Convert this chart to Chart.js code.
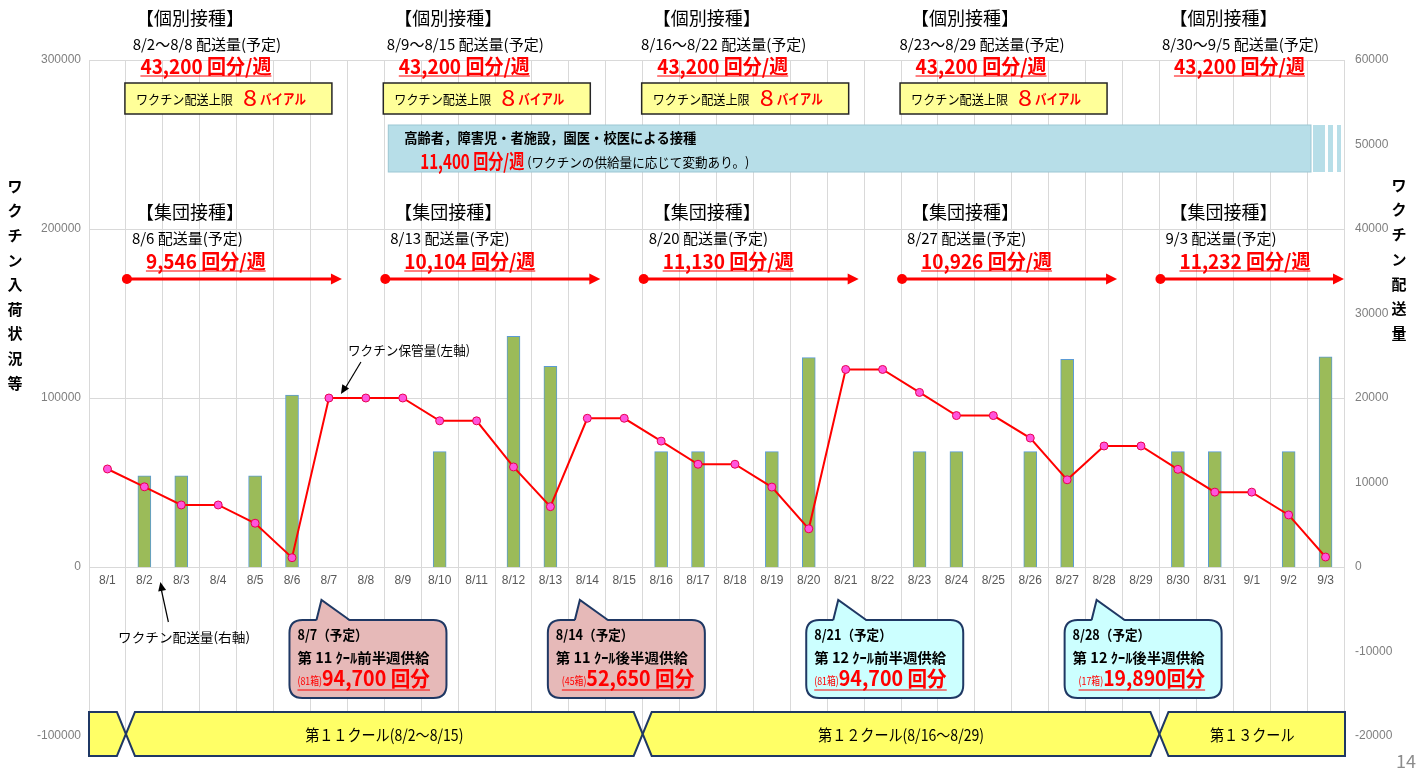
<!DOCTYPE html>
<html>
<head>
<meta charset="utf-8">
<script src="https://cdn.jsdelivr.net/npm/chart.js@4.4.1/dist/chart.umd.min.js"></script>
<style>
  html, body { margin: 0; padding: 0; background: #fff; }
  #wrap { width: 1422px; height: 769px; position: relative; }
</style>
</head>
<body>
<div id="wrap"><canvas id="myChart"></canvas></div>
<script>
// categories
var days = ["8/1","8/2","8/3","8/4","8/5","8/6","8/7","8/8","8/9","8/10","8/11","8/12","8/13","8/14","8/15",
  "8/16","8/17","8/18","8/19","8/20","8/21","8/22","8/23","8/24","8/25","8/26","8/27","8/28","8/29",
  "8/30","8/31","9/1","9/2","9/3"];

// ワクチン保管量 (left axis)
var stock = [58000, 47450, 36700, 36700, 25900, 5500, 100000, 100000, 100000, 86500, 86500, 59200, 35700, 88000, 88000,
  74500, 60800, 60800, 47300, 22600, 116900, 116900, 103300, 89600, 89600, 76300, 51600, 71600, 71600,
  57800, 44300, 44300, 30800, 5900];

// ワクチン配送量 (right axis)
var delivery = [null, 10800, 10800, null, 10800, 20346, null, null, null, 13650, null, 27300, 23754, null, null,
  13650, 13650, null, 13650, 24780, null, null, 13650, 13650, null, 13650, 24576, null, null,
  13650, 13650, null, 13650, 24882];

// tick values
var leftTicks = [-100000, 0, 100000, 200000, 300000];
var rightTicks = [-20000, -10000, 0, 10000, 20000, 30000, 40000, 50000, 60000];

// week groups (start index in days)
var weekStart = [1, 8, 15, 22, 29];
var indivRange = ["8/2～8/8", "8/9～8/15", "8/16～8/22", "8/23～8/29", "8/30～9/5"];
var indivDose = ["43,200", "43,200", "43,200", "43,200", "43,200"];
var capVials = ["8", "8", "8", "8"];
var groupDate = ["8/6", "8/13", "8/20", "8/27", "9/3"];
var groupDose = ["9,546", "10,104", "11,130", "10,926", "11,232"];

// supply callouts
var supplyIdx = [6, 13, 20, 27];
var supplyDate = ["8/7", "8/14", "8/21", "8/28"];
var supplyHalf = ["第 11 ｸｰﾙ前半週供給", "第 11 ｸｰﾙ後半週供給", "第 12 ｸｰﾙ前半週供給", "第 12 ｸｰﾙ後半週供給"];
var supplyBox = ["(81箱)", "(45箱)", "(81箱)", "(17箱)"];
var supplyDose = ["94,700 回分", "52,650 回分", "94,700 回分", "19,890回分"];
var supplyFill = ["#E6B9B8", "#E6B9B8", "#CCFFFF", "#CCFFFF"];

// cool band
var coolStart = [0, 1, 15, 29];
var coolLabel = ["", "第１１クール(8/2～8/15)", "第１２クール(8/16～8/29)", "第１３クール"];

var JP = '"Noto Sans CJK JP", "Noto Sans", sans-serif';
var NAVY = "#1F3864";

function txt(ctx, s, x, y, o) {
  ctx.save();
  ctx.font = (o.bold ? "bold " : "") + o.size + "px " + JP;
  ctx.fillStyle = o.color || "#000";
  ctx.textBaseline = "middle";
  ctx.textAlign = "left";
  var m = ctx.measureText(s).width;
  var sx = o.sx || 1;
  if (o.w) sx = o.w / m;
  var w = m * sx;
  var left = x;
  if (o.align == "center") left = x - w / 2;
  ctx.translate(left, y);
  ctx.scale(sx, 1);
  ctx.fillText(s, 0, 0);
  ctx.restore();
  if (o.ul) {
    ctx.save();
    ctx.strokeStyle = o.color;
    ctx.lineWidth = 1;
    ctx.beginPath();
    ctx.moveTo(left, y + o.ul);
    ctx.lineTo(left + w, y + o.ul);
    ctx.stroke();
    ctx.restore();
  }
  return w;
}

function arrowHead(ctx, x1, y1, x2, y2, len, half, color) {
  var a = Math.atan2(y2 - y1, x2 - x1);
  ctx.save();
  ctx.fillStyle = color;
  ctx.translate(x2, y2);
  ctx.rotate(a);
  ctx.beginPath();
  ctx.moveTo(0, 0);
  ctx.lineTo(-len, -half);
  ctx.lineTo(-len, half);
  ctx.closePath();
  ctx.fill();
  ctx.restore();
}

function roundRect(ctx, x, y, w, h, r) {
  ctx.beginPath();
  ctx.moveTo(x + r, y);
  ctx.lineTo(x + w - r, y);
  ctx.quadraticCurveTo(x + w, y, x + w, y + r);
  ctx.lineTo(x + w, y + h - r);
  ctx.quadraticCurveTo(x + w, y + h, x + w - r, y + h);
  ctx.lineTo(x + r, y + h);
  ctx.quadraticCurveTo(x, y + h, x, y + h - r);
  ctx.lineTo(x, y + r);
  ctx.quadraticCurveTo(x, y, x + r, y);
  ctx.closePath();
}

var notes = {
  id: "notes",
  afterDraw: function (chart) {
    var ctx = chart.ctx;
    var X = chart.scales.x, YL = chart.scales.yL;
    var cw = X.width / days.length;
    var edge = function (i) { return X.left + i * cw; };
    var area = chart.chartArea;

    // condense factor for red numbers
    ctx.save();
    ctx.font = "bold 20px " + JP;
    var redSx = 131 / ctx.measureText("43,200 回分/週").width;
    ctx.restore();

    // axis titles (vertical)
    var lt = "ワクチン入荷状況等";
    for (var k = 0; k < lt.length; k++) txt(ctx, lt[k], 15, 186 + k * 24.6, { size: 15, bold: true, align: "center" });
    var rt = "ワクチン配送量";
    for (k = 0; k < rt.length; k++) txt(ctx, rt[k], 1399, 185 + k * 24.7, { size: 15, bold: true, align: "center" });

    weekStart.forEach(function (ws, g) {
      var e = edge(ws);
      // 個別接種
      txt(ctx, "【個別接種】", e + 64, 18, { size: 18, align: "center" });
      txt(ctx, indivRange[g] + " 配送量(予定)", e + 81, 44, { size: 15, align: "center" });
      txt(ctx, indivDose[g] + " 回分/週", e + 80, 66, { size: 20, bold: true, color: "#FF0000", align: "center", sx: redSx, ul: 10 });
      if (capVials[g]) {
        var bx = e - 1, by = 83;
        ctx.save();
        ctx.fillStyle = "#FFFF99";
        ctx.strokeStyle = "#262626";
        ctx.lineWidth = 1.5;
        ctx.fillRect(bx, by, 207, 31);
        ctx.strokeRect(bx, by, 207, 31);
        ctx.restore();
        txt(ctx, "ワクチン配送上限", bx + 11, by + 16, { size: 13, w: 97 });
        txt(ctx, capVials[g], bx + 118, by + 15, { size: 22, color: "#FF0000", w: 14 });
        txt(ctx, "バイアル", bx + 135, by + 16, { size: 14, bold: true, color: "#FF0000", w: 46 });
      }
      // 集団接種
      txt(ctx, "【集団接種】", e + 64, 212, { size: 18, align: "center" });
      txt(ctx, groupDate[g] + " 配送量(予定)", e + 6, 238, { size: 15 });
      txt(ctx, groupDose[g] + " 回分/週", e + 20, 261, { size: 20, bold: true, color: "#FF0000", sx: redSx, ul: 10 });
      var x1 = e + 1, x2 = Math.min(e + 216, area.right);
      ctx.save();
      ctx.strokeStyle = "#FF0000";
      ctx.fillStyle = "#FF0000";
      ctx.lineWidth = 3;
      ctx.beginPath();
      ctx.moveTo(x1, 279);
      ctx.lineTo(x2 - 8, 279);
      ctx.stroke();
      ctx.beginPath();
      ctx.arc(x1, 279, 5, 0, Math.PI * 2);
      ctx.fill();
      ctx.restore();
      arrowHead(ctx, x1, 279, x2, 279, 11, 5.5, "#FF0000");
    });

    // 高齢者 box
    var bl = edge(8) + 4;
    ctx.save();
    ctx.fillStyle = "#B7DEE8";
    ctx.strokeStyle = "#9CC7D4";
    ctx.lineWidth = 1;
    ctx.fillRect(bl, 125, 1311 - bl, 47);
    ctx.strokeRect(bl, 125, 1311 - bl, 47);
    [[1313, 12], [1328, 5], [1337, 4]].forEach(function (s) {
      ctx.fillRect(s[0], 125, s[1], 47);
    });
    ctx.restore();
    txt(ctx, "高齢者，障害児・者施設，園医・校医による接種", bl + 16, 138, { size: 14, bold: true, w: 292 });
    txt(ctx, "11,400 回分/週", bl + 32, 161, { size: 20, bold: true, color: "#FF0000", w: 104 });
    txt(ctx, "(ワクチンの供給量に応じて変動あり。)", bl + 139, 162, { size: 13, w: 222 });

    // line annotation
    var px = X.getPixelForValue(6), py = YL.getPixelForValue(stock[6]);
    txt(ctx, "ワクチン保管量(左軸)", 348, 350, { size: 13, w: 122 });
    ctx.save();
    ctx.strokeStyle = "#000";
    ctx.lineWidth = 1.2;
    ctx.beginPath();
    ctx.moveTo(px + 32, 362);
    ctx.lineTo(px + 14, py - 6);
    ctx.stroke();
    ctx.restore();
    arrowHead(ctx, px + 32, 362, px + 12, py - 4, 9, 4, "#000");

    var bxp = X.getPixelForValue(1);
    txt(ctx, "ワクチン配送量(右軸)", 118, 637, { size: 13, w: 132 });
    ctx.save();
    ctx.strokeStyle = "#000";
    ctx.lineWidth = 1.2;
    ctx.beginPath();
    ctx.moveTo(bxp + 24, 622);
    ctx.lineTo(bxp + 17, 590);
    ctx.stroke();
    ctx.restore();
    arrowHead(ctx, bxp + 24, 622, bxp + 16, 582, 9, 4, "#000");

    // supply callouts
    supplyIdx.forEach(function (si, c) {
      var left = edge(si) - 21, top = 620, w = 157, h = 78;
      ctx.save();
      ctx.fillStyle = supplyFill[c];
      ctx.strokeStyle = NAVY;
      ctx.lineWidth = 2;
      roundRect(ctx, left, top, w, h, 13);
      ctx.fill();
      ctx.stroke();
      // tail
      ctx.beginPath();
      ctx.moveTo(left + 27, top + 1);
      ctx.lineTo(left + 32, 600);
      ctx.lineTo(left + 60, top + 1);
      ctx.closePath();
      ctx.fill();
      ctx.beginPath();
      ctx.moveTo(left + 27, top);
      ctx.lineTo(left + 32, 600);
      ctx.lineTo(left + 60, top);
      ctx.stroke();
      ctx.restore();
      txt(ctx, supplyDate[c] + "（予定）", left + 8, 635, { size: 14, bold: true, sx: 0.9 });
      txt(ctx, supplyHalf[c], left + 8, 658, { size: 14, bold: true, w: 132 });
      var rx = left + (c == 1 || c == 3 ? 14 : 8);
      var wa = txt(ctx, supplyBox[c], rx, 681, { size: 11, color: "#FF0000", sx: 0.8, ul: 9 });
      txt(ctx, supplyDose[c], rx + wa, 678, { size: 21, bold: true, color: "#FF0000", w: c == 3 ? 102 : 108, ul: 12 });
    });

    // cool band
    var top = 712, bot = 756, mid = 734, d = 9;
    var xs = coolStart.map(function (i) { return i == 0 ? area.left : edge(i); });
    for (var s = 0; s < xs.length; s++) {
      var l = xs[s], r = s + 1 < xs.length ? xs[s + 1] : area.right + 1;
      var first = s == 0, last = s == xs.length - 1;
      ctx.save();
      ctx.fillStyle = "#FFFF66";
      ctx.strokeStyle = NAVY;
      ctx.lineWidth = 2;
      ctx.beginPath();
      if (first) { ctx.moveTo(l, top); } else { ctx.moveTo(l + d, top); }
      if (last) { ctx.lineTo(r, top); ctx.lineTo(r, bot); }
      else { ctx.lineTo(r - d, top); ctx.lineTo(r, mid); ctx.lineTo(r - d, bot); }
      if (first) { ctx.lineTo(l, bot); } else { ctx.lineTo(l + d, bot); ctx.lineTo(l, mid); }
      ctx.closePath();
      ctx.fill();
      ctx.stroke();
      ctx.restore();
      if (coolLabel[s]) txt(ctx, coolLabel[s], (l + r) / 2, 735, { size: 16, align: "center", sx: 0.88 });
    }

    // page number
    txt(ctx, "14", 1406, 761, { size: 18, color: "#8C8C8C", align: "center" });
  }
};

function plain(v) { return String(v); }

new Chart("myChart", {
  data: {
    labels: days,
    datasets: [{
      type: "line",
      label: "ワクチン保管量",
      data: stock,
      yAxisID: "yL",
      borderColor: "#FF0000",
      borderWidth: 2,
      tension: 0,
      pointRadius: 4,
      pointBackgroundColor: "#FF55DD",
      pointBorderColor: "#E8004F",
      pointBorderWidth: 1,
      order: 0
    }, {
      type: "bar",
      label: "ワクチン配送量",
      data: delivery,
      yAxisID: "yR",
      backgroundColor: "#9BBB59",
      borderColor: "#5B9BD5",
      borderWidth: 1,
      barThickness: 13,
      order: 1
    }]
  },
  options: {
    responsive: true,
    maintainAspectRatio: false,
    animation: false,
    layout: { padding: { top: 60, bottom: 33, left: 0, right: 0 } },
    plugins: { legend: { display: false }, tooltip: { enabled: false } },
    scales: {
      x: {
        position: { yL: 0 },
        grid: { offset: true, color: "#D9D9D9", drawTicks: false },
        border: { display: true, color: "#D9D9D9" },
        ticks: { autoSkip: false, maxRotation: 0, padding: 6, color: "#595959",
          font: { family: '"Liberation Sans Narrow", "Liberation Sans", sans-serif', size: 12 } }
      },
      yL: {
        position: "left",
        min: leftTicks[0], max: leftTicks[leftTicks.length - 1],
        ticks: { stepSize: 100000, padding: 8, color: "#7F7F7F", callback: plain,
          font: { family: '"Liberation Sans", sans-serif', size: 12 } },
        grid: { color: "#D9D9D9", drawTicks: false },
        border: { display: false },
        afterFit: function (s) { s.width = 89; }
      },
      yR: {
        position: "right",
        min: rightTicks[0], max: rightTicks[rightTicks.length - 1],
        ticks: { stepSize: 10000, padding: 11, color: "#7F7F7F", callback: plain,
          font: { family: '"Liberation Sans", sans-serif', size: 12 } },
        grid: { display: false, drawTicks: false },
        border: { display: false },
        afterFit: function (s) { s.width = 78; }
      }
    }
  },
  plugins: [notes]
});
</script>
</body>
</html>
